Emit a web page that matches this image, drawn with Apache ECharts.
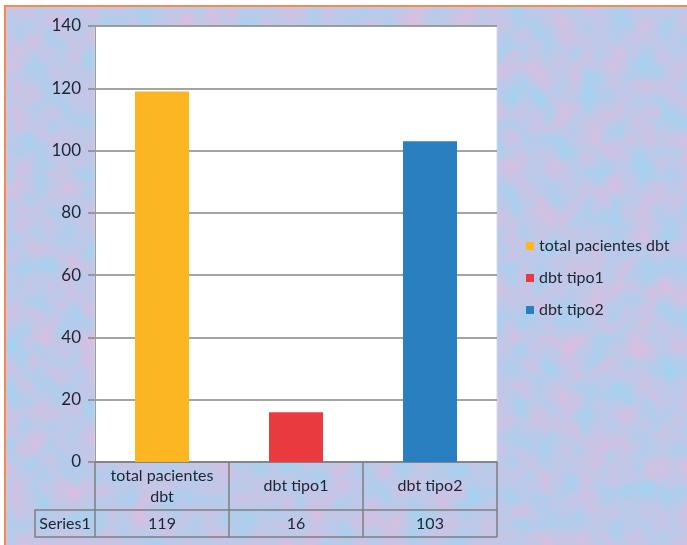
<!DOCTYPE html>
<html>
<head>
<meta charset="utf-8">
<script src="https://cdn.jsdelivr.net/npm/echarts@6/dist/echarts.min.js"></script>
<style>
  html, body { margin: 0; padding: 0; background: #fff; }
  #frame {
    position: absolute; left: 4px; top: 5px; width: 683px; height: 540px;
    border-top: 2px solid #f58b4c; border-left: 2px solid #f58b4c;
    background-color: #bcd5ee;
  }
  #chart { position: absolute; left: 0; top: 0; width: 687px; height: 545px; }
</style>
</head>
<body>
<div id="frame"></div>
<div id="chart"></div>
<script>
const categories = ["total pacientes dbt", "dbt tipo1", "dbt tipo2"];
const tableLabels = ["total pacientes\ndbt", "dbt tipo1", "dbt tipo2"];
const values = [119, 16, 103];
const seriesName = "Series1";
const colors = ["#fcb622", "#e93a3f", "#2a7fc1"];
const yTicks = { min: 0, max: 140, interval: 20 };

const gridBox = { left: 95, top: 26, width: 402, height: 436 };
const row1 = 48;
const row2 = 27;
const tableLeft = 35;
const lineColor = "#7d7f82";
const textColor = "#1e2430";
const font = "Lato, 'Open Sans', sans-serif";

// mottled paper texture behind the chart (decoration only)
const noise =
  "<svg xmlns='http://www.w3.org/2000/svg' width='683' height='540'>" +
  "<filter id='n' color-interpolation-filters='sRGB'>" +
  "<feTurbulence type='fractalNoise' baseFrequency='0.04' numOctaves='3' seed='7'/>" +
  "<feColorMatrix values='0.304 0 0 0 0.593  -0.112 0 0 0 0.841  -0.096 0 0 0 0.958  0 0 0 0 1'/>" +
  "</filter><rect width='100%' height='100%' filter='url(#n)'/></svg>";
document.getElementById("frame").style.backgroundImage = `url("data:image/svg+xml,${encodeURIComponent(noise)}")`;

const chart = echarts.init(document.getElementById("chart"));

const series = categories.map((name, i) => ({
  name,
  type: "bar",
  stack: "all",
  barWidth: 54,
  itemStyle: { color: colors[i] },
  data: values.map((v, j) => (j === i ? v : "-"))
}));

const bottom = gridBox.top + gridBox.height;
const tableRight = gridBox.left + gridBox.width;

chart.setOption({
  backgroundColor: "transparent",
  textStyle: { fontFamily: font },
  grid: {
    left: gridBox.left,
    top: gridBox.top,
    width: gridBox.width,
    height: gridBox.height,
    show: true,
    backgroundColor: "#ffffff",
    borderColor: "#d4dbe4",
    borderWidth: 1
  },
  legend: {
    orient: "vertical",
    left: 521,
    top: 233,
    itemWidth: 8,
    itemHeight: 8,
    itemGap: 16,
    icon: "rect",
    data: categories,
    textStyle: { fontSize: 16, color: textColor, fontFamily: font }
  },
  xAxis: [
    {
      type: "category",
      data: tableLabels,
      axisLine: { show: true, lineStyle: { color: lineColor, width: 1.5 } },
      axisTick: { show: true, length: row1 + row2, lineStyle: { color: lineColor, width: 1.5 } },
      axisLabel: {
        margin: row1 / 2,
        verticalAlign: "middle",
        fontSize: 16,
        lineHeight: 21,
        color: textColor,
        fontFamily: font
      }
    },
    {
      type: "category",
      position: "bottom",
      offset: row1,
      data: values.map(String),
      axisLine: { show: false },
      axisTick: { show: false },
      axisLabel: {
        margin: row2 / 2,
        verticalAlign: "middle",
        fontSize: 16,
        color: textColor,
        fontFamily: font
      }
    }
  ],
  yAxis: {
    type: "value",
    min: yTicks.min,
    max: yTicks.max,
    interval: yTicks.interval,
    axisLine: { show: true, lineStyle: { color: "#9a9ca0", width: 1 } },
    axisTick: { show: true, length: 7, lineStyle: { color: "#868686", width: 1.5 } },
    axisLabel: { margin: 14, fontSize: 17, color: textColor, fontFamily: font },
    splitLine: { lineStyle: { color: "#868686", width: 1.5 } }
  },
  series,
  graphic: [
    {
      type: "polyline",
      silent: true,
      shape: {
        points: [
          [tableRight, bottom + row1],
          [tableLeft, bottom + row1],
          [tableLeft, bottom + row1 + row2],
          [tableRight, bottom + row1 + row2]
        ]
      },
      style: { stroke: lineColor, lineWidth: 1.5, fill: null }
    },
    {
      type: "text",
      silent: true,
      style: {
        text: seriesName,
        x: (tableLeft + gridBox.left) / 2,
        y: bottom + row1 + row2 / 2,
        align: "center",
        verticalAlign: "middle",
        fontSize: 16,
        fontFamily: font,
        fill: textColor
      }
    }
  ]
});
</script>
</body>
</html>
